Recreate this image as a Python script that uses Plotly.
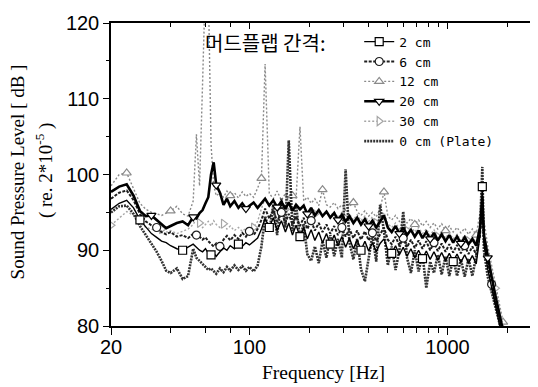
import math
import plotly.graph_objects as go

# Frequency bins [Hz]
freq = [20, 22, 24, 26, 28, 30, 32, 34, 36, 38,
        40, 43, 46, 49, 52, 54, 56, 58, 60, 62,
        64, 66, 68, 71, 74, 77, 80, 84, 88, 92,
        96, 100, 105, 110, 115, 120, 126, 132, 138, 145,
        152, 158, 165, 172, 180, 188, 196, 205, 214, 224,
        234, 245, 256, 268, 280, 293, 306, 320, 335, 350,
        366, 383, 400, 418, 437, 457, 478, 500, 523, 547,
        572, 598, 625, 654, 684, 715, 748, 782, 818, 855,
        894, 935, 978, 1022, 1069, 1118, 1169, 1222, 1278, 1336,
        1397, 1461, 1500, 1528, 1598, 1671, 1747, 1827, 1910, 1997]

# Sound pressure level [dB] per mud-flap gap
spl_2cm = [95.4, 96.2, 96.6, 95.6, 94.0, 93.0, 92.2, 91.7, 91.2, 91.0,
           90.6, 90.2, 90.0, 90.4, 90.8, 90.4, 90.0, 89.8, 90.2, 89.6,
           89.4, 89.6, 89.2, 89.8, 90.3, 90.0, 90.6, 90.2, 90.8, 90.5,
           91.0, 90.7, 91.2, 91.6, 92.8, 94.2, 93.0, 94.3, 92.6, 93.9,
           92.4, 93.6, 92.0, 93.3, 91.8, 93.0, 91.5, 92.7, 91.3, 92.4,
           91.0, 92.2, 90.8, 92.0, 90.6, 91.8, 90.4, 91.6, 90.2, 91.4,
           90.0, 91.2, 89.9, 91.0, 89.8, 90.9, 91.5, 90.0, 89.6, 90.6,
           89.4, 90.4, 89.2, 90.2, 89.0, 90.0, 88.9, 89.9, 88.8, 89.8,
           88.7, 89.7, 88.6, 89.6, 88.5, 89.5, 88.4, 89.4, 88.3, 89.3,
           88.2, 92.0, 98.4, 91.0, 87.5, 85.0, 82.5, 80.0, 78.0, 76.5]

spl_6cm = [96.8, 97.6, 97.9, 96.6, 94.8, 93.8, 93.3, 93.0, 92.4, 92.1,
           92.4, 91.8, 92.0, 91.6, 92.2, 92.0, 91.8, 91.4, 91.7, 91.2,
           90.8, 90.5, 90.9, 90.5, 91.4, 91.9, 91.3, 92.0, 91.5, 92.3,
           91.8, 92.5, 92.0, 92.8, 94.0, 95.5, 94.2, 95.3, 93.8, 95.0,
           93.6, 94.8, 93.4, 94.5, 93.2, 94.3, 92.8, 93.9, 92.6, 93.6,
           92.4, 93.4, 92.2, 93.2, 92.0, 93.0, 91.8, 92.8, 91.6, 92.6,
           91.4, 92.5, 91.3, 92.3, 91.2, 92.2, 93.0, 91.4, 90.8, 91.8,
           90.6, 91.6, 90.4, 91.4, 90.3, 91.3, 90.2, 91.2, 90.0, 91.0,
           89.9, 90.9, 89.8, 90.8, 89.7, 90.7, 89.6, 90.6, 89.5, 90.5,
           89.4, 92.0, 96.0, 91.0, 88.0, 85.5, 83.0, 80.5, 78.5, 77.0]

spl_12cm = [98.5, 100.0, 100.2, 98.0, 96.2, 95.4, 95.0, 94.8, 94.6, 94.9,
            95.2, 95.8, 94.8, 94.5, 96.5, 105.3, 98.5, 112.0, 126.0, 125.0,
            104.0, 98.5, 97.2, 97.6, 97.0, 97.8, 97.2, 97.6, 96.9, 97.7,
            97.1, 97.5, 97.0, 98.2, 99.5, 114.6, 97.5, 96.8, 97.8, 96.6,
            97.5, 96.4, 97.2, 96.8, 106.3, 96.5, 97.0, 96.2, 96.8, 95.9,
            98.0, 96.0, 95.7, 96.3, 95.5, 96.0, 95.3, 95.8, 96.3, 95.1,
            94.6, 95.2, 94.5, 95.0, 94.4, 95.5, 97.7, 94.5, 94.0, 94.6,
            93.8, 94.3, 93.6, 94.2, 93.4, 94.0, 93.2, 93.8, 93.0, 93.6,
            92.8, 93.5, 92.6, 93.2, 92.4, 93.0, 92.3, 92.9, 92.1, 92.8,
            92.0, 95.0, 98.4, 94.0, 90.5, 88.0, 85.5, 83.0, 80.5, 78.0]

spl_20cm = [97.7, 98.4, 98.7, 97.2, 95.2, 94.5, 94.6, 94.0, 93.4, 92.9,
            93.2, 93.6, 93.8, 93.3, 94.4, 94.2, 94.9, 95.3, 96.2, 97.0,
            100.0, 101.6, 98.6, 97.6, 96.0, 96.8, 95.8, 96.5, 95.6, 96.2,
            95.5, 95.9, 96.3, 95.6, 96.2, 96.8, 95.9, 96.6, 95.7, 96.4,
            95.5, 96.3, 95.2, 96.0, 95.4, 95.9, 94.8, 95.6, 94.6, 95.3,
            94.5, 95.1, 94.3, 94.9, 94.0, 94.7, 93.8, 94.5, 93.6, 94.3,
            93.4, 94.1, 93.2, 93.9, 93.0, 93.8, 94.6, 93.0, 92.4, 93.2,
            92.2, 93.0, 92.0, 92.7, 91.8, 92.6, 91.6, 92.4, 91.5, 92.3,
            91.3, 92.1, 91.2, 92.0, 91.0, 91.8, 90.9, 91.7, 90.8, 91.5,
            90.6, 93.0, 97.0, 92.0, 89.0, 86.5, 84.0, 81.5, 79.0, 77.0]

spl_30cm = [93.3, 94.3, 95.1, 94.6, 93.6, 93.0, 92.8, 92.5, 92.8, 92.4,
            92.6, 92.2, 92.5, 92.8, 93.4, 94.2, 93.6, 93.0, 93.4, 93.8,
            93.2, 93.9, 93.4, 93.0, 93.5, 92.8, 93.2, 92.6, 93.0, 92.5,
            92.9, 92.4, 93.0, 93.8, 95.5, 96.8, 95.8, 96.5, 95.6, 96.3,
            95.4, 96.1, 95.3, 96.0, 95.2, 95.8, 95.0, 95.6, 94.8, 95.4,
            94.6, 95.2, 94.5, 95.1, 94.3, 95.0, 94.2, 94.8, 94.0, 94.7,
            93.9, 94.5, 93.8, 94.4, 93.6, 94.2, 95.0, 93.5, 93.0, 93.6,
            92.8, 93.4, 92.6, 93.2, 92.4, 93.0, 92.2, 92.8, 92.0, 92.7,
            91.8, 92.5, 91.6, 92.3, 91.5, 92.1, 91.3, 92.0, 91.2, 91.8,
            91.0, 93.0, 96.0, 92.5, 89.5, 87.5, 85.0, 82.5, 80.0, 77.5]

spl_plate = [95.0, 95.8, 95.9, 94.8, 93.2, 92.0, 91.0, 89.8, 88.6, 87.3,
             87.0, 87.6, 86.2, 86.6, 90.2, 89.0, 88.6, 88.2, 87.9, 87.4,
             87.6, 87.2, 86.9, 87.6, 87.1, 87.8, 87.3, 88.0, 87.4, 87.9,
             87.3, 87.8, 87.2, 88.0, 90.5, 94.5, 92.5, 96.0, 92.0, 96.8,
             93.0, 104.5, 92.5, 96.0, 91.5, 93.5, 89.5, 88.6, 90.5, 88.3,
             91.2, 89.0, 92.0, 89.2, 91.5, 89.0, 100.7, 91.0, 88.8, 91.5,
             87.5, 85.9, 89.0, 92.0, 88.5, 96.0, 92.5, 88.0, 90.5, 87.4,
             90.0, 95.1, 89.0, 87.0, 90.0, 87.2, 89.5, 85.0, 88.5, 87.0,
             89.4, 86.8, 89.2, 86.6, 89.0, 86.6, 88.8, 86.5, 88.9, 86.6,
             89.2, 93.0, 101.0, 90.0, 86.5, 84.5, 82.5, 80.2, 78.0, 76.5]

x_major = [20, 100, 1000]
x_major_labels = ["20", "100", "1000"]
x_minor = [40, 60, 80, 200, 300, 400, 500, 600, 700, 800, 900, 2000]

legend_title = "머드플랩 간격:"
x_title = "Frequency [Hz]"
y_title_1 = "Sound Pressure Level [ dB ]"
y_title_2 = "( re. 2*10<sup>-5</sup> )"

series = {
    "2 cm": spl_2cm,
    "6 cm": spl_6cm,
    "12 cm": spl_12cm,
    "20 cm": spl_20cm,
    "30 cm": spl_30cm,
    "0 cm (Plate)": spl_plate,
}
legend_order = ["2 cm", "6 cm", "12 cm", "20 cm", "30 cm", "0 cm (Plate)"]
draw_order = ["12 cm", "30 cm", "0 cm (Plate)", "6 cm", "2 cm", "20 cm"]

styles = {
    "2 cm": dict(line=dict(color="#000000", width=1.4), symbol="square", start=4),
    "6 cm": dict(line=dict(color="#1e1e1e", width=2.0, dash="3px,1.5px"), symbol="circle", start=7),
    "12 cm": dict(line=dict(color="#8a8a8a", width=1.4, dash="2px,2px"), symbol="triangle-up", start=2),
    "20 cm": dict(line=dict(color="#000000", width=2.6), symbol="triangle-down", start=6),
    "30 cm": dict(line=dict(color="#a6a6a6", width=1.4, dash="2px,2px"), symbol="triangle-right", start=0),
    "0 cm (Plate)": dict(line=dict(color="#333333", width=2.6, dash="2px,1px"), symbol=None, start=0),
}
marker_step = 8

fig = go.Figure()

for name in draw_order:
    st = styles[name]
    yv = series[name]
    fig.add_trace(go.Scatter(x=freq, y=yv, mode="lines", line=st["line"],
                             showlegend=False, legendgroup=name, hoverinfo="skip"))
    if st["symbol"]:
        idx = list(range(st["start"], len(freq), marker_step))
        fig.add_trace(go.Scatter(
            x=[freq[i] for i in idx], y=[yv[i] for i in idx], mode="markers",
            marker=dict(symbol=st["symbol"], size=8, color="white",
                        line=dict(color=st["line"]["color"], width=1.2)),
            showlegend=False, legendgroup=name, hoverinfo="skip"))

for name in legend_order:
    st = styles[name]
    kw = dict(x=[None], y=[None], name=name, legendgroup=name, line=st["line"])
    if st["symbol"]:
        kw["mode"] = "lines+markers"
        kw["marker"] = dict(symbol=st["symbol"], size=8, color="white",
                            line=dict(color=st["line"]["color"], width=1.2))
    else:
        kw["mode"] = "lines"
    fig.add_trace(go.Scatter(**kw))

# empty trace so that the mirrored (top/right) axes are drawn
fig.add_trace(go.Scatter(x=[], y=[], xaxis="x2", yaxis="y2", showlegend=False, hoverinfo="skip"))

xr = [math.log10(20), math.log10(2800)]
tickfont = dict(family="Arial, Liberation Sans", size=20, color="black")
serif = "Liberation Serif, Times New Roman"

# the page body adds an 8px margin, so the figure is 8px smaller on the
# left/top and the margins are reduced accordingly
fig.update_layout(
    width=530, height=379,
    margin=dict(l=103, r=2, t=15, b=61),
    paper_bgcolor="white", plot_bgcolor="white",
    showlegend=True,
    legend=dict(x=0.584, y=0.988, xanchor="left", yanchor="top",
                bgcolor="rgba(0,0,0,0)", borderwidth=0,
                font=dict(family="DejaVu Sans Mono", size=13, color="black"),
                itemwidth=30, tracegroupgap=0, traceorder="normal"),
    xaxis=dict(type="log", range=xr, tickmode="array", tickvals=x_major, ticktext=x_major_labels,
               ticks="outside", ticklen=7, tickwidth=1.3, tickcolor="black",
               showline=True, linecolor="black", linewidth=1.5, showgrid=False, zeroline=False,
               tickfont=tickfont, ticklabelstandoff=-5,
               minor=dict(tickmode="array", tickvals=x_minor, ticks="outside", ticklen=5,
                          tickwidth=1.2, tickcolor="black", showgrid=False)),
    yaxis=dict(range=[80, 120], tickmode="linear", tick0=80, dtick=10,
               ticks="outside", ticklen=6, tickwidth=1.3, tickcolor="black",
               showline=True, linecolor="black", linewidth=1.5, showgrid=False, zeroline=False,
               tickfont=tickfont,
               minor=dict(tickmode="linear", tick0=80, dtick=5, ticks="outside", ticklen=3,
                          tickwidth=1.2, tickcolor="black", showgrid=False)),
    xaxis2=dict(type="log", range=xr, overlaying="x", side="top", anchor="y",
                tickmode="array", tickvals=x_major, ticks="inside", ticklen=6, tickwidth=1.3,
                tickcolor="black", showticklabels=False, showline=True, linecolor="black",
                linewidth=1.5, showgrid=False, zeroline=False,
                minor=dict(tickmode="array", tickvals=x_minor, ticks="inside", ticklen=4,
                           tickwidth=1.2, tickcolor="black", showgrid=False)),
    yaxis2=dict(range=[80, 120], overlaying="y", side="right", anchor="x",
                tickmode="linear", tick0=80, dtick=5, ticks="inside", ticklen=5, tickwidth=1.3,
                tickcolor="black", showticklabels=False, showline=True, linecolor="black",
                linewidth=1.5, showgrid=False, zeroline=False),
    annotations=[
        dict(text=legend_title, xref="paper", yref="paper", x=0.508, y=0.937,
             xanchor="right", yanchor="middle", showarrow=False,
             font=dict(family="Noto Sans CJK KR", size=20, color="black")),
        dict(text=x_title, xref="paper", yref="paper", x=0.5, y=-0.155,
             xanchor="center", yanchor="middle", showarrow=False,
             font=dict(family=serif, size=19.5, color="black")),
        dict(text=y_title_1, xref="paper", yref="paper", x=-0.219, y=0.51,
             xanchor="center", yanchor="middle", showarrow=False, textangle=-90,
             font=dict(family=serif, size=19, color="black")),
        dict(text=y_title_2, xref="paper", yref="paper", x=-0.155, y=0.515,
             xanchor="center", yanchor="middle", showarrow=False, textangle=-90,
             font=dict(family=serif, size=19, color="black")),
    ],
)

fig.write_html("out.html")
